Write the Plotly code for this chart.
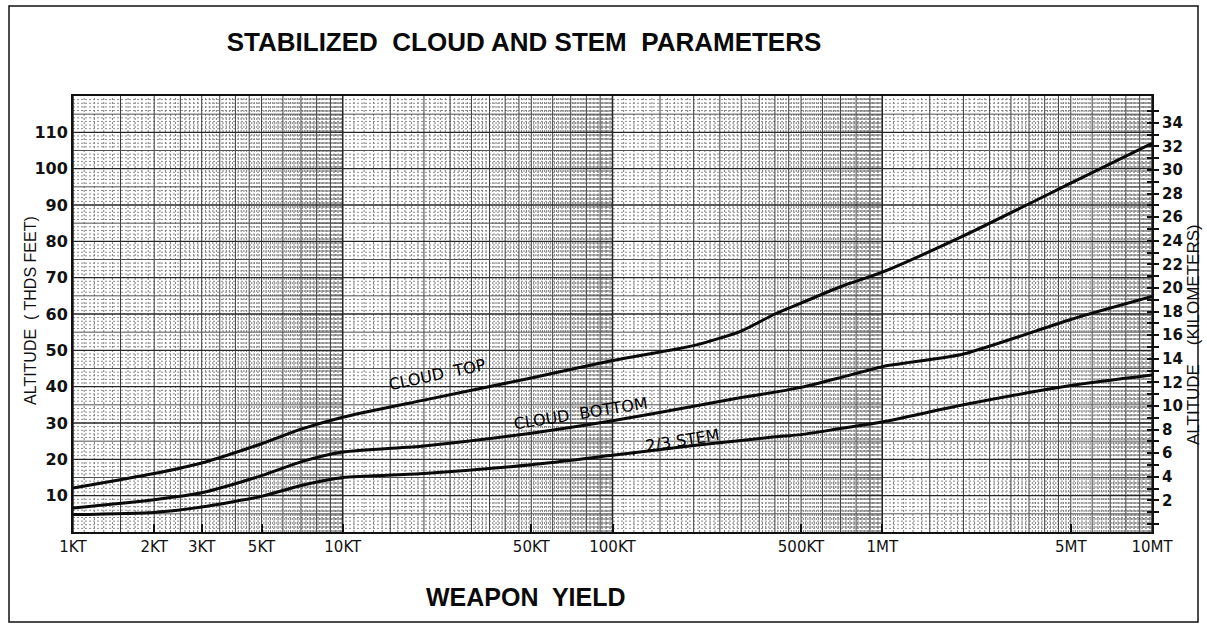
import numpy as np
import plotly.graph_objects as go

# Weapon yield (kilotons) and stabilized altitudes (thousands of feet)
yield_kt = [1, 2, 3, 5, 7, 10, 20, 50, 100, 200, 300, 400, 500, 700, 1000, 2000, 5000, 10000]
cloud_top_kft = [12.1, 16.1, 19.0, 24.3, 28.3, 31.6, 36.3, 42.4, 47.2, 51.3, 55.3, 60.0, 63.0, 67.5, 71.5, 81.5, 96.0, 107.0]
cloud_bottom_kft = [6.6, 8.9, 10.8, 15.5, 19.3, 22.0, 23.7, 27.2, 30.6, 34.6, 37.0, 38.5, 39.8, 42.5, 45.5, 49.0, 58.5, 64.8]
stem_kft = [4.8, 5.4, 6.9, 9.8, 12.8, 15.0, 16.1, 18.5, 21.1, 23.8, 25.2, 26.2, 26.8, 28.5, 30.3, 35.0, 40.3, 43.2]

x_tick_vals = [1, 2, 3, 5, 10, 50, 100, 500, 1000, 5000, 10000]
x_tick_text = ["1KT", "2KT", "3KT", "5KT", "10KT", "50KT", "100KT", "500KT", "1MT", "5MT", "10MT"]
ft_tick_vals = list(range(10, 111, 10))
km_tick_vals = list(range(2, 35, 2))

X_RANGE = (1, 10000)
Y_RANGE = (0, 120)
KM_RANGE = (-0.68, 36.27)

LABEL_FONT = "DejaVu Sans"
TITLE_FONT = "Liberation Sans"

fig = go.Figure()


def vertical_lines(values):
    xs, ys = [], []
    for v in values:
        xs += [v, v, None]
        ys += [Y_RANGE[0], Y_RANGE[1], None]
    return xs, ys


def horizontal_lines(values):
    xs, ys = [], []
    for v in values:
        xs += [X_RANGE[0], X_RANGE[1], None]
        ys += [v, v, None]
    return xs, ys


def grid_trace(xs, ys, color, width, dash="solid"):
    return go.Scatter(x=xs, y=ys, mode="lines", hoverinfo="skip", showlegend=False,
                      line=dict(color=color, width=width, dash=dash))


decades = [1, 10, 100, 1000]
medium_mult = [1.5, 2, 2.5, 3, 3.5, 4, 4.5, 5, 6, 7, 8, 9]

# fine log-paper rulings
fine_x = []
for d in decades:
    for m in np.round(np.arange(1.1, 10.0, 0.1), 2):
        if not any(abs(m - k) < 1e-6 for k in medium_mult):
            fine_x.append(d * m)
fine_y = [v for v in range(1, 120) if v % 5 != 0]
fx, fy = vertical_lines(fine_x)
fig.add_trace(grid_trace(fx, fy, "#7e7e7e", 1, "2px,2px"))
fx, fy = horizontal_lines(fine_y)
fig.add_trace(grid_trace(fx, fy, "#8a8a8a", 1, "2px,2px"))

# medium rulings
mx, my = vertical_lines([d * m for d in decades for m in medium_mult])
fig.add_trace(grid_trace(mx, my, "#3c3c3c", 1))
mx, my = horizontal_lines([v for v in range(5, 120, 10)])
fig.add_trace(grid_trace(mx, my, "#505050", 1))

# heavy rulings
hx, hy = vertical_lines(decades + [10000])
fig.add_trace(grid_trace(hx, hy, "#262626", 1.5))
hx, hy = horizontal_lines(list(range(10, 120, 10)))
fig.add_trace(grid_trace(hx, hy, "#262626", 1.4))

# the three curves
for name, values in [("CLOUD TOP", cloud_top_kft),
                     ("CLOUD BOTTOM", cloud_bottom_kft),
                     ("2/3 STEM", stem_kft)]:
    fig.add_trace(go.Scatter(x=yield_kt, y=values, mode="lines", name=name,
                             line=dict(color="#0a0a0a", width=3, shape="spline", smoothing=0.6),
                             showlegend=False))

# empty traces so the kilometre scale (outer and inner tick marks) is laid out
fig.add_trace(go.Scatter(x=[], y=[], yaxis="y2", showlegend=False, hoverinfo="skip"))
fig.add_trace(go.Scatter(x=[], y=[], yaxis="y3", showlegend=False, hoverinfo="skip"))

curve_labels = [
    ("CLOUD  TOP", 22.5, 43.3, -12),
    ("CLOUD  BOTTOM", 76.4, 32.6, -9),
    (",  2/3 STEM", 170.6, 24.9, -9),
]
annotations = []
for text, xv, yv, ang in curve_labels:
    annotations.append(dict(text=text, x=np.log10(xv), y=yv, xref="x", yref="y",
                            showarrow=False, textangle=ang,
                            xanchor="center", yanchor="middle",
                            font=dict(family=LABEL_FONT, size=16, color="#000")))

annotations += [
    dict(text="WEAPON  YIELD", x=526, y=597, showarrow=False,
         font=dict(family=TITLE_FONT, size=25, color="#0a0a0a", weight="bold")),
    dict(text="ALTITUDE  ( THDS FEET)", x=30, y=311, textangle=-90, showarrow=False,
         font=dict(family=TITLE_FONT, size=16, color="#111")),
    dict(text="ALTITUDE    (KILOMETERS)", x=1193, y=334, textangle=-90, showarrow=False,
         font=dict(family=TITLE_FONT, size=17, color="#111")),
]

# convert pixel placements of the free text into paper coordinates
PLOT_L, PLOT_R, PLOT_T, PLOT_B = 73, 1152, 96, 532
for a in annotations:
    if a.get("xref") != "x":
        a["xref"], a["yref"] = "paper", "paper"
        a["xanchor"], a["yanchor"] = "center", "middle"
        a["x"] = (a["x"] - PLOT_L) / (PLOT_R - PLOT_L)
        a["y"] = (PLOT_B - a["y"]) / (PLOT_B - PLOT_T)

fig.update_layout(
    width=1207, height=629,
    margin=dict(l=PLOT_L, r=1207 - PLOT_R, t=PLOT_T, b=629 - PLOT_B, pad=0),
    paper_bgcolor="white", plot_bgcolor="white",
    title=dict(text="STABILIZED  CLOUD AND STEM  PARAMETERS", x=524 / 1207, xanchor="center",
               y=1 - 42 / 629, yanchor="middle",
               font=dict(family=TITLE_FONT, size=26, color="#0a0a0a", weight="bold")),
    xaxis=dict(type="log", range=[np.log10(X_RANGE[0]), np.log10(X_RANGE[1])],
               tickvals=x_tick_vals, ticktext=x_tick_text,
               ticks="inside", ticklen=8, tickwidth=2, tickcolor="#111",
               showgrid=False, zeroline=False,
               showline=True, linewidth=2, linecolor="#111", mirror=True,
               tickfont=dict(family=LABEL_FONT, size=15, color="#111")),
    yaxis=dict(range=list(Y_RANGE), tickvals=ft_tick_vals, showgrid=False, zeroline=False,
               showline=True, linewidth=2, linecolor="#111", ticks="",
               tickfont=dict(family=LABEL_FONT, size=16, color="#111", weight="bold")),
    yaxis2=dict(overlaying="y", side="right", range=list(KM_RANGE),
                tickvals=list(range(0, 36)),
                ticktext=[str(v) if v in km_tick_vals else "" for v in range(0, 36)],
                ticks="outside", ticklen=5, tickwidth=1.5, tickcolor="#111",
                showgrid=False, zeroline=False, showline=True, linewidth=2, linecolor="#111",
                tickfont=dict(family=LABEL_FONT, size=15, color="#111", weight="bold")),
    yaxis3=dict(overlaying="y", side="right", range=list(KM_RANGE),
                tickvals=list(range(0, 36)), showticklabels=False,
                ticks="inside", ticklen=5, tickwidth=1.5, tickcolor="#111",
                showgrid=False, zeroline=False, showline=False),
    annotations=annotations,
    shapes=[dict(type="rect", xref="paper", yref="paper",
                 x0=(9 - PLOT_L) / (PLOT_R - PLOT_L), x1=(1198 - PLOT_L) / (PLOT_R - PLOT_L),
                 y0=(PLOT_B - 622) / (PLOT_B - PLOT_T), y1=(PLOT_B - 6) / (PLOT_B - PLOT_T),
                 line=dict(color="#111", width=1.5))],
)

fig.write_html("out.html")
